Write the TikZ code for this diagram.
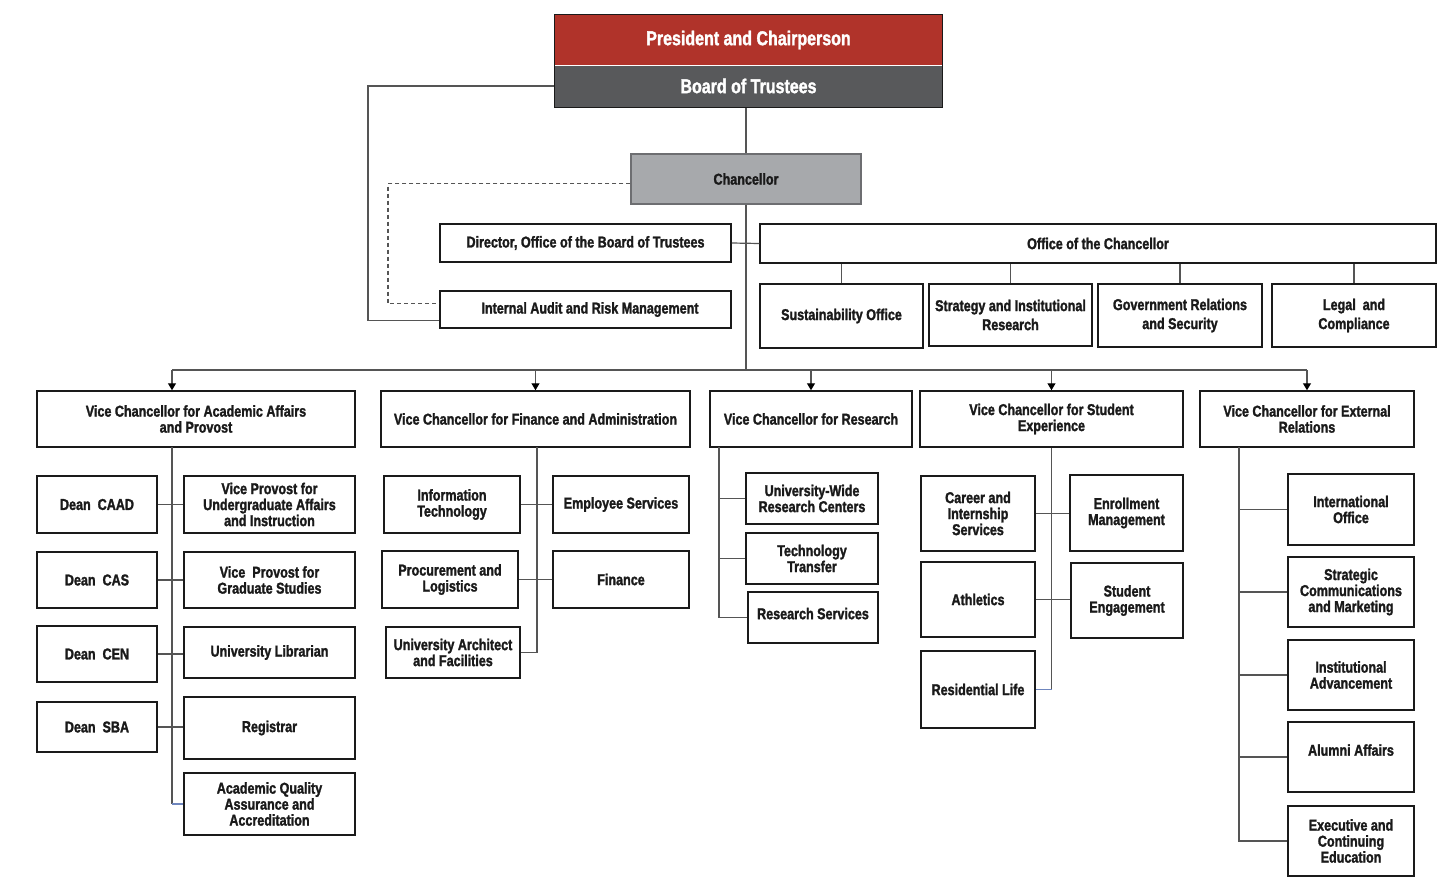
\documentclass[tikz,border=0pt]{standalone}
\usepackage{fontspec}
\setmainfont{Liberation Sans}[UprightFont={* Bold}, BoldFont={* Bold}, FakeStretch=0.8, FakeBold=1.6]
\usetikzlibrary{arrows.meta,calc}
\definecolor{bred}{HTML}{B0332A}
\definecolor{bgray}{HTML}{58595B}
\definecolor{cgray}{HTML}{A7A9AC}
\definecolor{cbord}{HTML}{6D6E71}
\definecolor{txt}{HTML}{1A1A1A}
\definecolor{ln}{HTML}{555555}
\definecolor{lnb}{HTML}{6F86BE}
\newcommand{\obox}[7][]{\node[box,#1,minimum width={(#5-#3)*1pt},minimum height={(#6-#4)*1pt}] (#2) at ({(#3+#5)/2},{(#4+#6)/2}) {#7};}
\tikzset{
  box/.style={draw=txt, line width=1.5pt, fill=white, inner sep=0pt, align=center,
    font=\fontsize{15.7}{16}\selectfont, text=txt},
  wide/.style={font=\fontsize{15.7}{19}\selectfont},
  title/.style={draw=none, text=white, font=\fontsize{20}{24}\selectfont},
  conn/.style={draw=ln, line width=1.2pt},
  connb/.style={draw=lnb, line width=1.2pt},
  arr/.style={conn, -{Triangle[width=8pt,length=7pt,color=black]}}
}
\begin{document}
\begin{tikzpicture}[x=1pt,y=-1pt]
\useasboundingbox (0,0) rectangle (1456,886);
\fill[white] (0,0) rectangle (1456,886);
% top
\obox[title,fill=bred]{pres}{555}{15}{942}{65}{President and Chairperson}
\obox[title,fill=bgray]{board}{555}{65}{942}{107}{Board of Trustees}
\draw[white,line width=1pt] (pres.south west) -- (pres.south east);
\draw[draw=txt,line width=1.2pt] (pres.north west) rectangle (board.south east);
\obox[fill=cgray,draw=cbord]{chan}{631}{154}{861}{204}{Chancellor}
\obox{dir}{440}{224}{731}{262}{Director, Office of the Board of Trustees}
\obox{ia}{440}{291}{731}{328}{\hspace*{9pt}Internal Audit and Risk Management}
\obox{off}{760}{224}{1436}{263}{Office of the Chancellor}
\obox[wide]{sus}{760}{284}{923}{348}{Sustainability Office}
\obox[wide]{str}{929}{284}{1092}{346}{Strategy and Institutional\\Research}
\obox[wide]{gov}{1098}{284}{1262}{347}{Government Relations\\and Security}
\obox[wide]{leg}{1272}{284}{1436}{347}{Legal~ and\\Compliance}
% VC row
\obox{vcaa}{37}{391}{355}{447}{Vice Chancellor for Academic Affairs\\and Provost}
\obox{vcfa}{381}{391}{690}{447}{Vice Chancellor for Finance and Administration}
\obox{vcr}{710}{391}{912}{447}{Vice Chancellor for Research}
\obox{vcse}{920}{391}{1183}{447}{Vice Chancellor for Student\\Experience}
\obox{vcer}{1200}{391}{1414}{447}{Vice Chancellor for External\\Relations}
% academic affairs
\obox{caad}{37}{476}{157}{533}{Dean~ CAAD}
\obox{cas}{37}{552}{157}{608}{Dean~ CAS}
\obox{cen}{37}{626}{157}{682}{Dean~ CEN}
\obox{sba}{37}{702}{157}{752}{Dean~ SBA}
\obox{vpug}{184}{476}{355}{533}{Vice Provost for\\Undergraduate Affairs\\and Instruction}
\obox{vpgs}{184}{552}{355}{608}{Vice~ Provost for\\Graduate Studies}
\obox{lib}{184}{627}{355}{678}{University Librarian}
\obox{reg}{184}{697}{355}{759}{Registrar}
\obox{aqa}{184}{773}{355}{835}{Academic Quality\\Assurance and\\Accreditation}
% finance
\obox{it}{384}{476}{520}{533}{Information\\Technology}
\obox{proc}{382}{551}{518}{608}{Procurement and\\Logistics}
\obox{arch}{386}{627}{520}{678}{University Architect\\and Facilities}
\obox{emp}{553}{476}{689}{533}{Employee Services}
\obox{fin}{553}{551}{689}{608}{Finance}
% research
\obox{uw}{746}{473}{878}{524}{University-Wide\\Research Centers}
\obox{tt}{746}{533}{878}{584}{Technology\\Transfer}
\obox[text depth=8pt]{rs}{748}{592}{878}{643}{Research Services}
% student experience
\obox{car}{921}{476}{1035}{551}{Career and\\Internship\\Services}
\obox{ath}{921}{562}{1035}{637}{Athletics}
\obox{res}{921}{651}{1035}{728}{Residential Life}
\obox{enr}{1070}{475}{1183}{551}{Enrollment\\Management}
\obox{se}{1071}{563}{1183}{638}{Student\\Engagement}
% external relations
\obox{io}{1288}{474}{1414}{545}{International\\Office}
\obox{scm}{1288}{557}{1414}{627}{Strategic\\Communications\\and Marketing}
\obox{ina}{1288}{640}{1414}{710}{Institutional\\Advancement}
\obox[text depth=14pt]{alu}{1288}{722}{1414}{792}{Alumni Affairs}
\obox{exe}{1288}{806}{1414}{876}{Executive and\\Continuing\\Education}
% coordinates
\coordinate (lx) at (368,0);
\coordinate (dx) at (388,0);
\coordinate (bl) at (172,370);
\coordinate (br) at (1307,370);
\coordinate (ta) at (172,447);
\coordinate (tf) at (537,447);
\coordinate (tr) at (719,447);
\coordinate (te) at (1239,447);
\coordinate (dstart) at ($(chan.south west)+(0,-21)$);
\coordinate (dend) at ($(ia.north west)+(0,13)$);
\coordinate (send) at ($(ia.south west)+(0,-8)$);
% top connectors
\draw[conn] (board.south -| chan.north) -- (chan.north);
\draw[conn] (board.west) -- (board.west -| lx) |- (send);
\draw[conn,dash pattern=on 4pt off 3pt] (dstart) -- (dstart -| dx) |- (dend);
\draw[conn] (chan.south) -- (chan.south |- bl);
\draw[conn] (dir.east) -- (off.west);
\foreach \n in {sus,str,gov,leg} \draw[conn] (off.south -| \n.north) -- (\n.north);
% bus and arrows
\draw[conn] (bl) -- (br);
\draw[arr] (bl) -- (bl |- vcaa.north);
\draw[arr] (vcfa.north |- bl) -- (vcfa.north);
\draw[arr] (vcr.north |- bl) -- (vcr.north);
\draw[arr] (vcse.north |- bl) -- (vcse.north);
\draw[arr] (br) -- (br |- vcer.north);
% academic affairs
\draw[conn] (ta) -- (ta |- aqa.west);
\draw[connb] (ta |- aqa.west) -- (aqa.west);
\draw[conn] (caad.east) -- (caad.east -| vpug.west);
\draw[conn] (cas.east) -- (cas.east -| vpgs.west);
\draw[conn] (cen.east) -- (cen.east -| lib.west);
\draw[conn] (sba.east) -- (sba.east -| reg.west);
% finance
\draw[conn] (tf) |- (arch.east);
\draw[conn] (it.east) -- (it.east -| emp.west);
\draw[conn] (proc.east) -- (proc.east -| fin.west);
% research
\draw[conn] (tr) |- (rs.west);
\draw[conn] (tr |- uw.west) -- (uw.west);
\draw[conn] (tr |- tt.west) -- (tt.west);
% student
\draw[conn] (vcse.south) -- (vcse.south |- res.east);
\draw[connb] (vcse.south |- res.east) -- (res.east);
\draw[conn] (car.east) -- (car.east -| enr.west);
\draw[conn] (ath.east) -- (ath.east -| se.west);
% external
\draw[conn] (te) |- (exe.west);
\foreach \n in {io,scm,ina,alu} \draw[conn] (te |- \n.west) -- (\n.west);
\end{tikzpicture}
\end{document}
